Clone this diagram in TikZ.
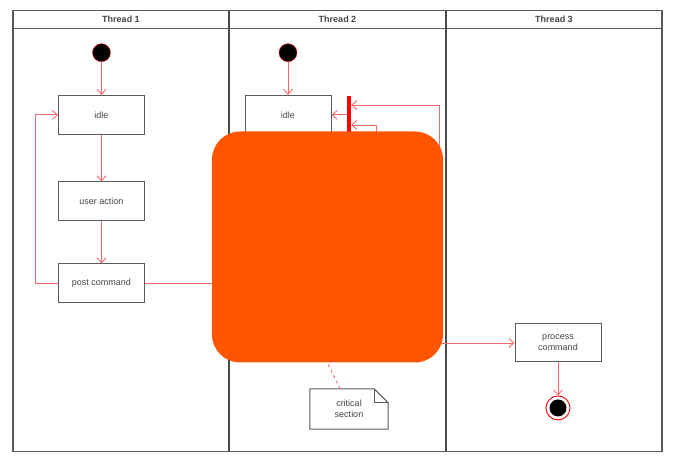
\documentclass[tikz,border=0pt]{standalone}
\usepackage{fontspec}
\setmainfont{Liberation Sans}
\usepackage{tikz}
\usetikzlibrary{arrows.meta, positioning, calc}
\definecolor{flowred}{HTML}{F76A6A}
\definecolor{syncred}{HTML}{FF0000}
\definecolor{boxline}{HTML}{5A5A5A}
\definecolor{laneline}{HTML}{4A4A4A}
\definecolor{boxtext}{HTML}{444444}
\definecolor{coverorange}{HTML}{FF5500}

\begin{document}
\begin{tikzpicture}[
        x=1pt, y=-1pt,
        lanehead/.style={
            font=\fontsize{9}{11}\selectfont\bfseries,
            text=boxtext
        },
        state/.style={
            draw=boxline,
            line width=1pt,
            minimum width=86pt,
            minimum height=39pt,
            align=center,
            text=boxtext,
            font=\fontsize{9}{11}\selectfont
        },
        startdot/.style={
            circle,
            draw=syncred,
            fill=black,
            minimum size=18pt,
            inner sep=0pt
        },
        enddot/.style={
            circle,
            draw=syncred,
            line width=0.9pt,
            fill=white,
            minimum size=24pt,
            inner sep=0pt,
            path picture={
                \fill[black] (path picture bounding box.center) circle (8.5pt);
            }
        },
        syncbar/.style={
            fill=syncred,
            minimum width=4pt,
            minimum height=60pt,
            inner sep=0pt
        },
        notebox/.style={
            minimum width=78pt,
            minimum height=40pt,
            align=center,
            text=boxtext,
            font=\fontsize{9}{11}\selectfont
        },
        cover/.style={
            fill=coverorange,
            rounded corners=28pt,
            minimum width=231pt,
            minimum height=231pt
        },
        flow/.style={
            -{Straight Barb[length=5pt,width=9pt]},
            line width=0.9pt,
            flowred
        },
        flowline/.style={
            line width=0.9pt,
            flowred
        },
        notelink/.style={
            line width=0.9pt,
            flowred,
            dashed
        }
    ]

        \useasboundingbox (0,0) rectangle (678,462);

        % ---------------------------------------------------------------------
        % Swimlanes
        % ---------------------------------------------------------------------

        \draw[boxline, line width=1.2pt]
            (13,10.7) rectangle (662,451.5);

        \draw[boxline, line width=1.2pt]
            (13,28.5) -- (662,28.5);

        \draw[laneline, line width=1.6pt]
            (229,10.7) -- (229,451.5);

        \draw[laneline, line width=1.6pt]
            (446,10.7) -- (446,451.5);

        \node[lanehead] (lane1) at (121,19.6) {Thread 1};
        \node[lanehead] (lane2) at (337.5,19.6) {Thread 2};
        \node[lanehead] (lane3) at (554,19.6) {Thread 3};


        % ---------------------------------------------------------------------
        % Thread 1
        % ---------------------------------------------------------------------

        \node[startdot] (start1) at (101.5,52.7) {};

        \node[
            state,
            below=33pt of start1
        ] (idle1) {idle};

        \node[
            state,
            below=46.5pt of idle1
        ] (action1) {user action};

        \node[
            state,
            below=42pt of action1
        ] (post1) {post command};

        \draw[flow]
            (start1) -- (idle1);

        \draw[flow]
            (idle1) -- (action1);

        \draw[flow]
            (action1) -- (post1);

        % Back to idle after posting.
        \draw[flow]
            (post1.west)
            -- ++(-23,0)
            |- (idle1.west);


        % ---------------------------------------------------------------------
        % Thread 2
        % ---------------------------------------------------------------------

        \node[startdot] (start2) at (288,52.7) {};

        \node[
            state,
            below=33pt of start2
        ] (idle2) {idle};

        \node[
            syncbar,
            anchor=north
        ] (sync2) at (349,96) {};

        \draw[flow]
            (start2) -- (idle2);

        \draw[flow]
            (sync2.west |- idle2.east) -- (idle2.east);

        % Returns into the bar; their lower parts sit under the cover.
        \coordinate (returnouter) at (439,200);
        \coordinate (returninner) at (376,200);

        \draw[flow]
            (returnouter)
            |- ([yshift=-9pt]sync2.north east);

        \draw[flow]
            (returninner)
            |- ([yshift=-29pt]sync2.north east);

        \node[notebox] (note2) at (349,409) {critical\\section};

        \draw[boxline, line width=1pt]
            (note2.north west)
            -- ([xshift=-14pt]note2.north east)
            -- ([yshift=-14pt]note2.north east)
            -- (note2.south east)
            -- (note2.south west)
            -- cycle;

        \draw[boxline, line width=1pt]
            ([xshift=-14pt]note2.north east)
            |- ([yshift=-14pt]note2.north east);


        % ---------------------------------------------------------------------
        % Thread 3
        % ---------------------------------------------------------------------

        \node[
            state,
            minimum height=38pt
        ] (process3) at (558,343) {process\\command};

        \node[
            enddot,
            below=33pt of process3
        ] (end3) {};

        \draw[flow]
            (process3) -- (end3);


        % ---------------------------------------------------------------------
        % Hand-off through the middle and the cover on top
        % ---------------------------------------------------------------------

        \coordinate (handoff) at (430,343);
        \coordinate (critical) at (327,362);

        \draw[flowline]
            (post1.east) -- ++(90,0);

        \draw[flow]
            (handoff) -- (process3.west);

        \draw[notelink]
            ([xshift=-9pt]note2.north) -- (critical);

        \node[cover] (cover) at (327.5,247) {};

    \end{tikzpicture}
\end{document}
